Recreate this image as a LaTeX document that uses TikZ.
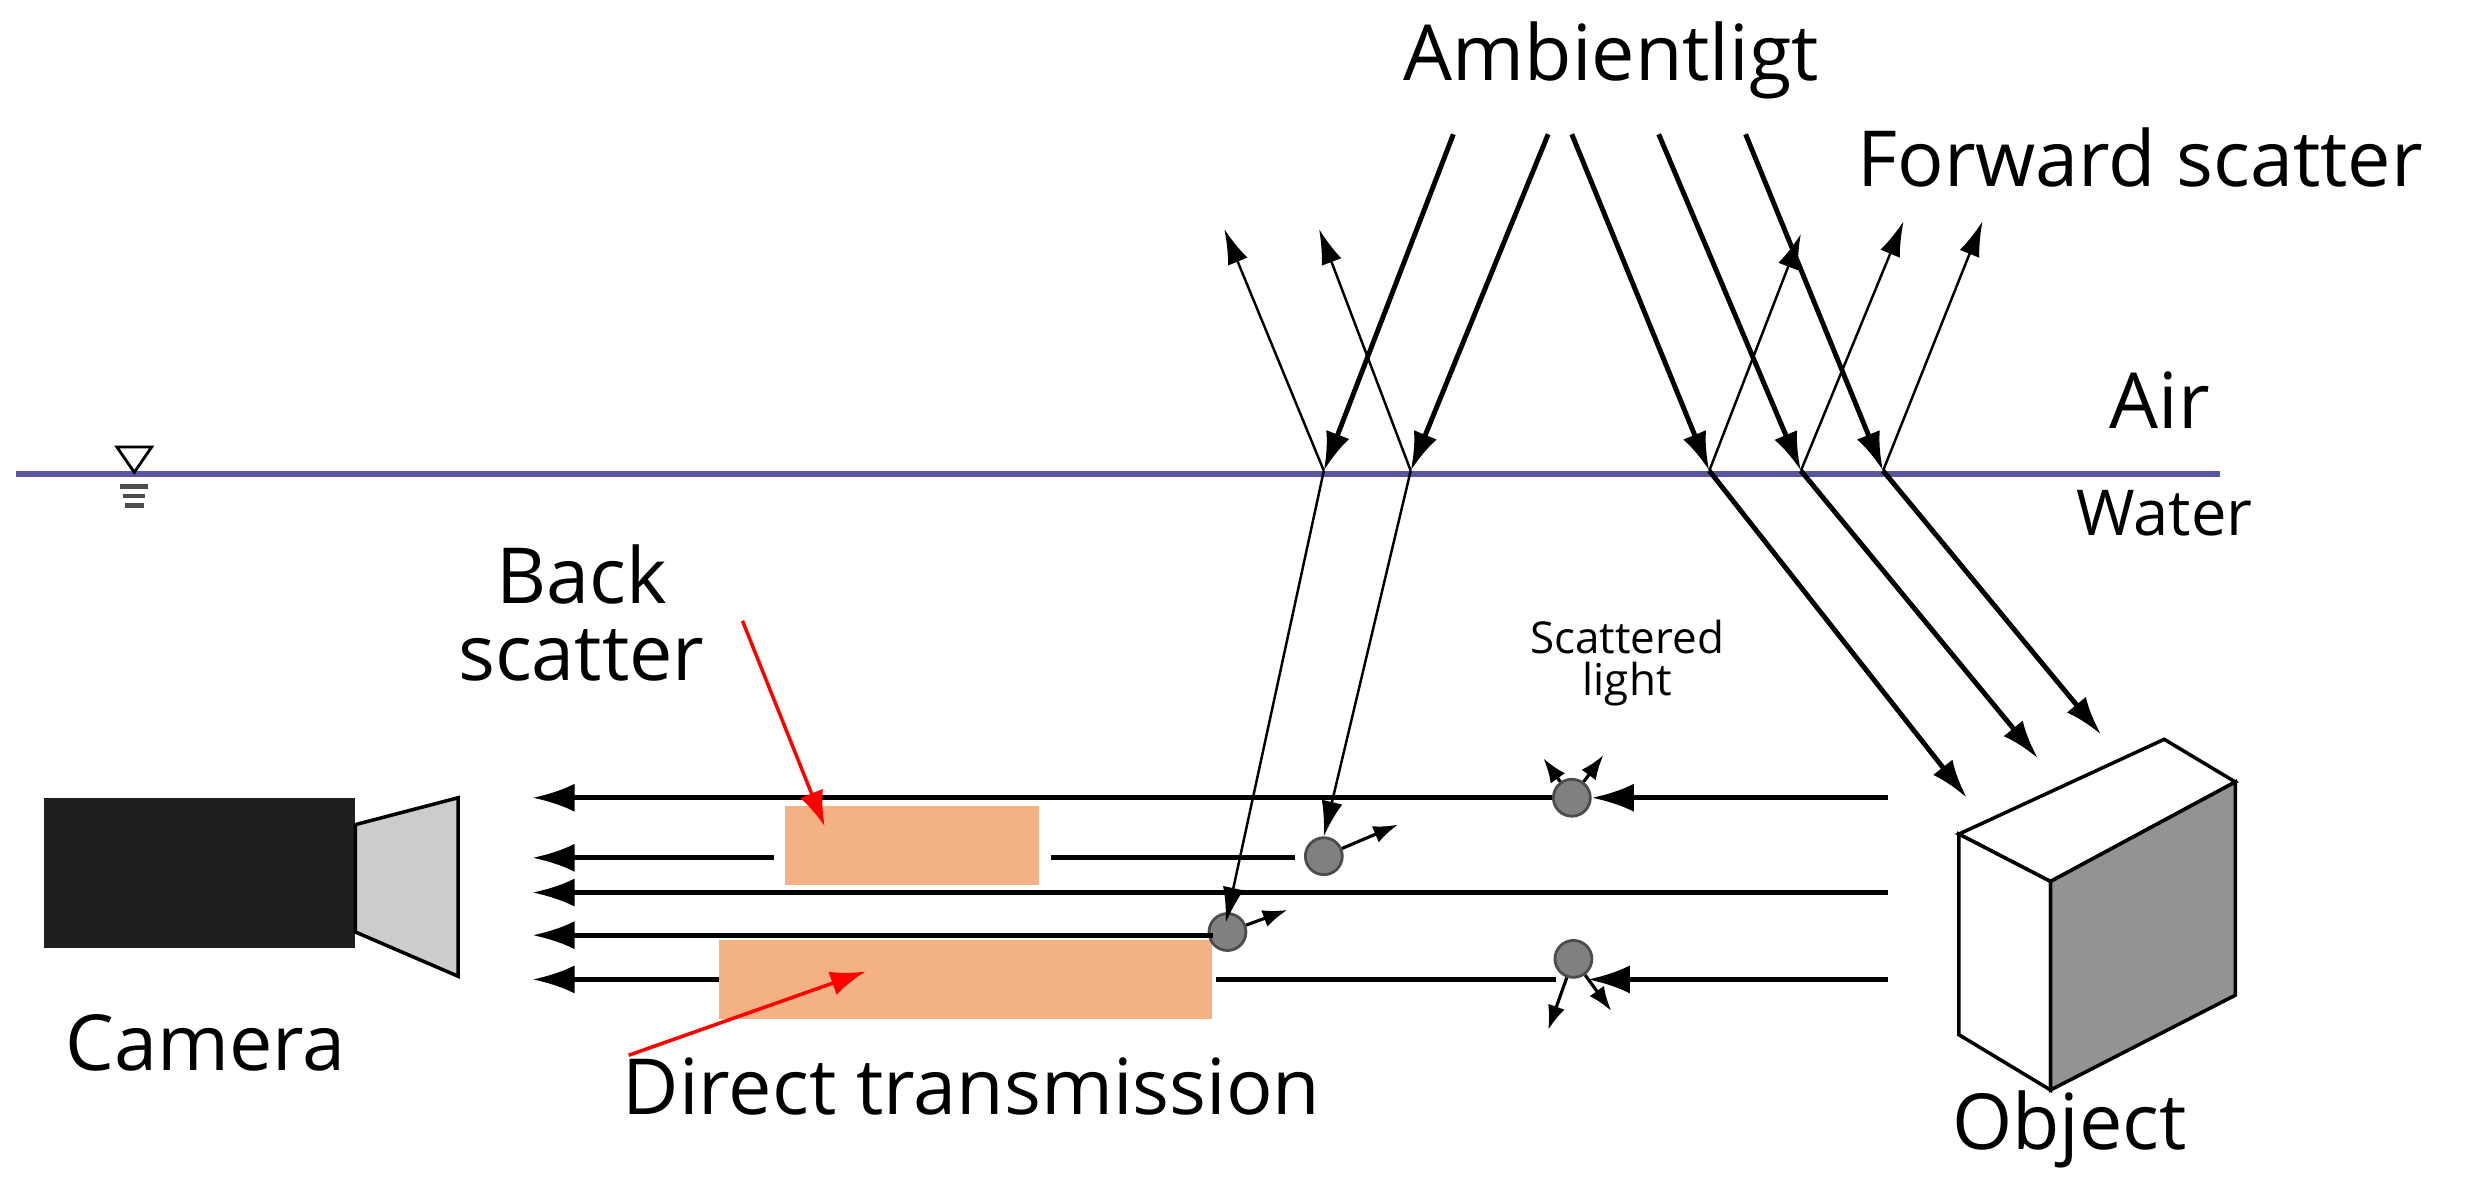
\documentclass[tikz,border=0pt]{standalone}
\usepackage{fontspec}
\setmainfont{Open Sans}
\usetikzlibrary{arrows.meta}
\definecolor{salmon}{HTML}{F4B183}
\definecolor{waterc}{HTML}{5A55A0}
\tikzset{
 thk/.style={line width=1.4pt,-{Latex[length=11pt,width=7pt]}},
 thn/.style={line width=0.7pt,-{Latex[length=10pt,width=6pt]}},
 hz/.style={line width=1.4pt},
 hza/.style={line width=1.4pt,-{Latex[length=12pt,width=8pt]}},
 sm/.style={line width=0.9pt,-{Latex[length=7pt,width=5pt]}},
 part/.style={circle,draw=black!70,fill=gray,line width=0.8pt,minimum size=10.5pt,inner sep=0pt},
 big/.style={font=\fontsize{22}{26}\selectfont},
 mid/.style={font=\fontsize{18}{22}\selectfont},
 small/.style={font=\fontsize{12.5}{15}\selectfont,align=center},
 box/.style={fill=salmon,draw=none},
 red/.style={draw=red,line width=1pt,-{Latex[length=10pt,width=7pt]}}
}
\begin{document}
\begin{tikzpicture}[x=0.0158cm,y=-0.0158cm]
\useasboundingbox (0,0) rectangle (1568,755);
% water line
\draw[waterc,line width=1.6pt] (10,300) -- (1405,300);
\draw[line width=0.8pt] (74,283) -- (96,283) -- (85,299) -- cycle;
\draw[line width=1.3pt,black!70] (76,308)--(94,308) (78,314)--(92,314) (79,320)--(91,320);
% texts
\node[big] (amb) at (1020,38) {Ambientligt};
\node[big,anchor=west] (fw) at (1168,100) {Forward scatter};
\node[big] (air) at (1367,253) {Air};
\node[mid] (wat) at (1370,325) {Water};
\node[big,align=center] (bs) at (368,388) {Back\\[-4pt]scatter};
\node[small] (sl) at (1030,420) {Scattered\\[-3pt]light};
\node[big] (cam) at (130,660) {Camera};
\node[big] (dt) at (615,688) {Direct transmission};
\node[big] (obj) at (1310,715) {Object};
% surface points
\coordinate (s1) at (838,298); \coordinate (s2) at (893,298);
\coordinate (s3) at (1082,298); \coordinate (s4) at (1140,298); \coordinate (s5) at (1192,298);
\coordinate (a1) at (920,85); \coordinate (a2) at (980,85);
\coordinate (a3) at (995,85); \coordinate (a4) at (1050,85); \coordinate (a5) at (1105,85);
\draw[thk] (a1)--(s1); \draw[thk] (a2)--(s2);
\draw[thk] (a3)--(s3); \draw[thk] (a4)--(s4); \draw[thk] (a5)--(s5);
\coordinate (r1) at (775,145); \coordinate (r2) at (835,145);
\coordinate (r3) at (1140,148); \coordinate (r4) at (1205,140); \coordinate (r5) at (1255,140);
\draw[thn] (s1)--(r1); \draw[thn] (s2)--(r2);
\draw[thn] (s3)--(r3); \draw[thn] (s4)--(r4); \draw[thn] (s5)--(r5);
% object
\coordinate (o1) at (1240,528); \coordinate (o2) at (1298,558); \coordinate (o3) at (1298,690);
\coordinate (o4) at (1240,655); \coordinate (o5) at (1370,468); \coordinate (o6) at (1415,495);
\coordinate (o7) at (1415,630);
\draw[line width=1pt,fill=white] (o1)--(o5)--(o6)--(o2)--cycle;
\draw[line width=1pt,fill=white] (o1)--(o2)--(o3)--(o4)--cycle;
\draw[line width=1pt,fill=gray!85] (o2)--(o6)--(o7)--(o3)--cycle;
\draw[thk] (s3)--(1245,505); \draw[thk] (s4)--(1290,480); \draw[thk] (s5)--(1330,465);
% boxes
\fill[box] (497,510) rectangle (658,560);
\fill[box] (455,595) rectangle (767,645);
% camera
\fill[black!88] (28,505) rectangle (225,600);
\draw[line width=1pt,fill=gray!40] (225,522)--(290,505)--(290,618)--(225,590)--cycle;
% particles
\node[part] (p1) at (995,505) {};
\node[part] (p2) at (838,542) {};
\node[part] (p3) at (777,590) {};
\node[part] (p4) at (996,607) {};
% horizontal rays
\coordinate (e1) at (1195,505); \coordinate (e3) at (1195,565); \coordinate (e5) at (1195,620);
\coordinate (l1) at (337,505); \coordinate (l2) at (337,543); \coordinate (l3) at (337,565);
\coordinate (l4) at (337,592); \coordinate (l5) at (337,620);
\coordinate (m4) at (768,592);
\draw[hza] (e1)--(p1.east);
\draw[hza] (p1.west)--(l1);
\draw[hz] (820,543)--(665,543);
\draw[hza] (490,543)--(l2);
\draw[hza] (e3)--(l3);
\draw[hza] (m4)--(l4);
\draw[hza] (e5)--(1005,620);
\draw[hz] (985,620)--(770,620);
\draw[hza] (455,620)--(l5);
% refracted thin rays
\draw[thn] (s1)--(776,584);
\draw[thn] (s2)--(p2.north);
% scattered small arrows
\draw[sm] (p1)--(977,480); \draw[sm] (p1)--(1015,478);
\draw[sm] (p2)--(885,522);
\draw[sm] (p3)--(815,576);
\draw[sm] (p4)--(980,652); \draw[sm] (p4)--(1020,640);
% red pointers
\draw[red] (470,393)--(522,523);
\draw[red] (398,668)--(548,615);
\end{tikzpicture}
\end{document}
